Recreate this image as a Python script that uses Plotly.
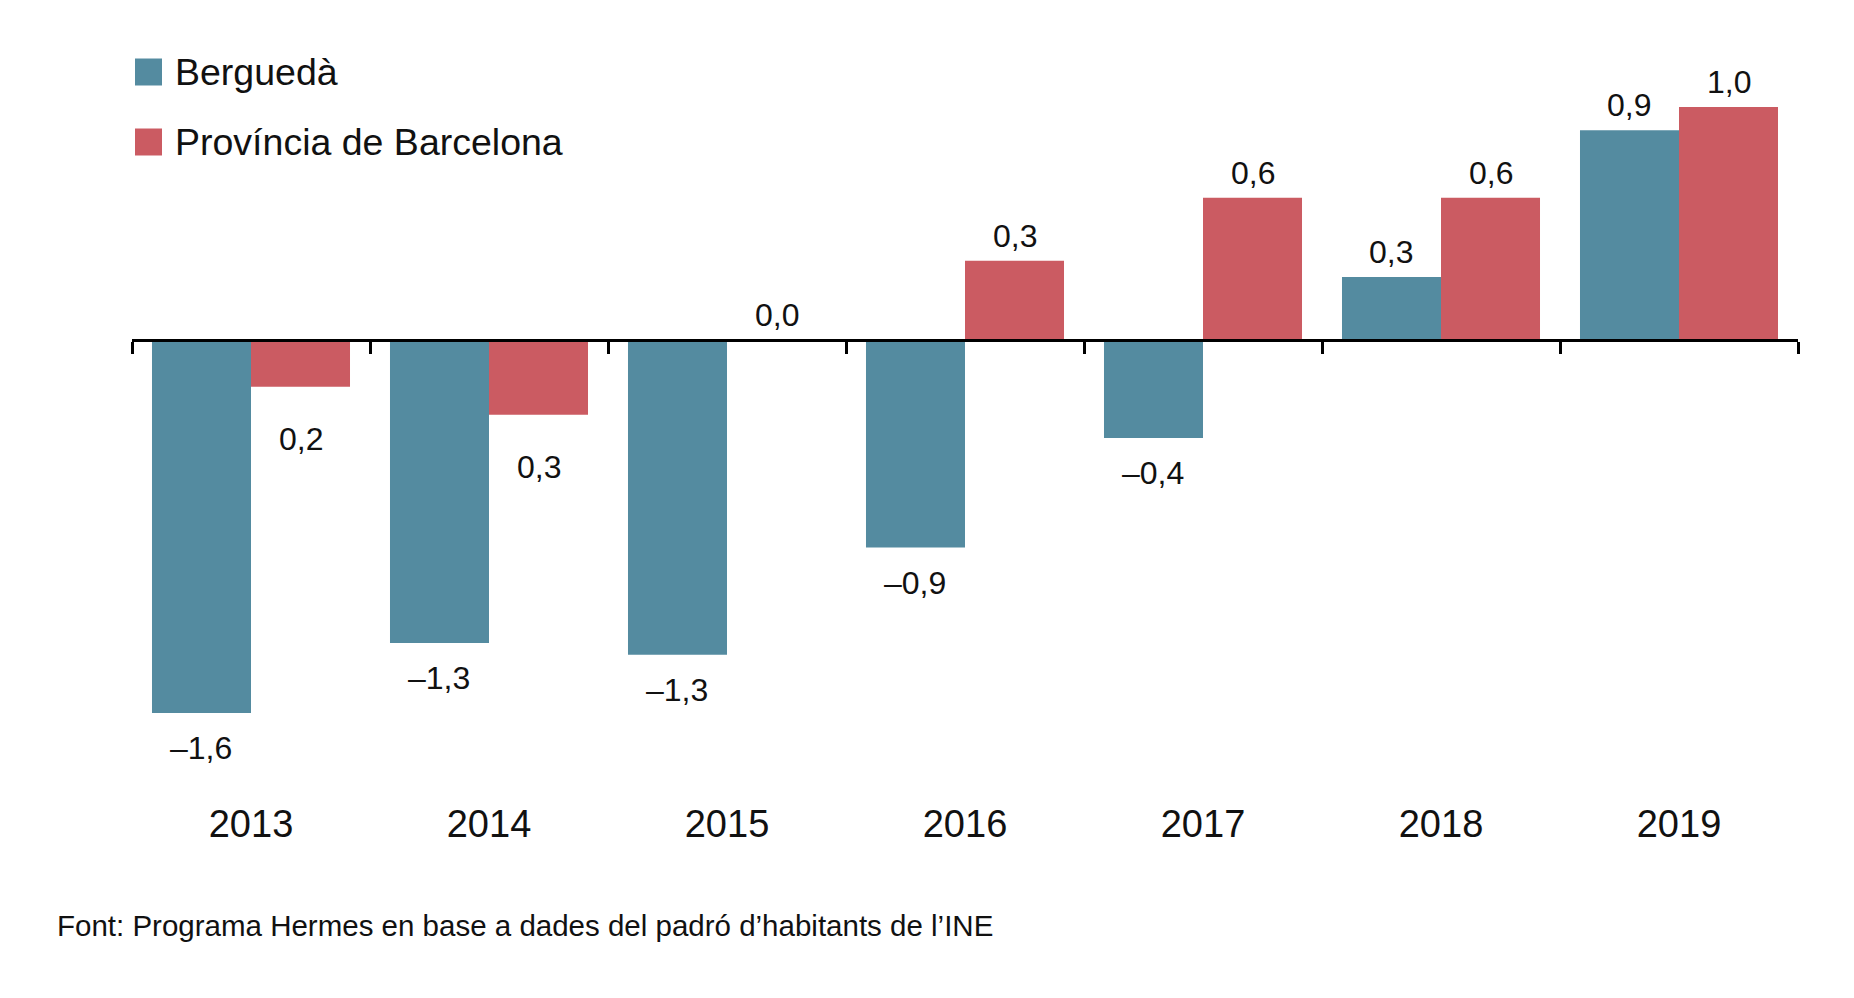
import plotly.graph_objects as go

years = ["2013", "2014", "2015", "2016", "2017", "2018", "2019"]
bergueda = [-1.60, -1.30, -1.35, -0.89, -0.42, 0.27, 0.90]
barcelona = [-0.20, -0.32, 0.00, 0.34, 0.61, 0.61, 1.00]
bergueda_labels = ["–1,6", "–1,3", "–1,3", "–0,9", "–0,4", "0,3", "0,9"]
barcelona_labels = ["0,2", "0,3", "0,0", "0,3", "0,6", "0,6", "1,0"]
names = ["Berguedà", "Província de Barcelona"]
colors = ["#548BA0", "#CB5B62"]
source = "Font: Programa Hermes en base a dades del padró d’habitants de l’INE"

# page is 1854x998, the figure sits 8px in because of the body margin
OFF = 8
W, H = 1854 - 2 * OFF, 998 - 2 * OFF
ml, mr, mt, mb = 124, 48, 29, 242
pw = W - ml - mr
ph = H - mt - mb
ymin, ymax = -1.75, 1.3
bargap = 0.168
font = "Liberation Sans, Arial, Helvetica, sans-serif"

def px_x(px):
    return (px - OFF - ml) / pw

def px_y(py):
    return (H - mb - (py - OFF)) / ph

fig = go.Figure()
for name, vals, col in zip(names, [bergueda, barcelona], colors):
    fig.add_trace(go.Bar(x=years, y=vals, name=name, marker_color=col,
                         marker_line_width=0, hoverinfo="x+y"))

# dummy trace so the second axis (zero line with ticks) gets its categories
fig.add_trace(go.Scatter(x=years, y=bergueda, xaxis="x2", mode="markers",
                         marker=dict(opacity=0), hoverinfo="skip",
                         showlegend=False))

# data labels
half = pw / len(years) * (1 - bargap) / 4
anns = []
for vals, labels, sign, negshift in [(bergueda, bergueda_labels, -1, -35),
                                     (barcelona, barcelona_labels, 1, -52)]:
    for i, (v, t) in enumerate(zip(vals, labels)):
        anns.append(dict(x=i, y=v, xref="x", yref="y", text=t,
                         showarrow=False, xshift=sign * half,
                         yshift=25 if v >= 0 else negshift,
                         yanchor="middle", xanchor="center",
                         font=dict(size=32, color="#111", family=font)))

# legend drawn by hand (plotly caps legend symbol size)
shapes = []
for i, (name, col) in enumerate(zip(names, colors)):
    cy = 72 + i * 70
    shapes.append(dict(type="rect", xref="paper", yref="paper",
                       x0=px_x(135), x1=px_x(162),
                       y0=px_y(cy + 13.5), y1=px_y(cy - 13.5),
                       fillcolor=col, line_width=0))
    anns.append(dict(x=px_x(173), y=px_y(cy), xref="paper", yref="paper",
                     text=name, showarrow=False, xanchor="left",
                     yanchor="middle",
                     font=dict(size=37.5, color="#111", family=font)))

anns.append(dict(x=px_x(55), y=px_y(925), xref="paper", yref="paper",
                 text=source, showarrow=False, xanchor="left",
                 yanchor="middle", font=dict(size=29.5, color="#111", family=font)))

fig.update_layout(
    width=W, height=H,
    margin=dict(l=ml, r=mr, t=mt, b=mb, pad=0),
    paper_bgcolor="white", plot_bgcolor="white",
    barmode="group", bargap=bargap, bargroupgap=0,
    showlegend=False,
    annotations=anns, shapes=shapes,
    font=dict(family=font, color="#111"),
    xaxis=dict(type="category", range=[-0.5, 6.5], showline=False,
               showgrid=False, ticks="", ticklabelstandoff=50,
               tickfont=dict(size=38, color="#111")),
    xaxis2=dict(type="category", range=[-0.5, 6.5], overlaying="x",
                anchor="free", position=(0 - ymin) / (ymax - ymin),
                side="bottom", showline=True, linecolor="black", linewidth=3,
                ticks="outside", tickson="boundaries", ticklen=12,
                tickwidth=2.5, tickcolor="black", showticklabels=False,
                showgrid=False),
    yaxis=dict(range=[ymin, ymax], visible=False, showgrid=False,
               zeroline=False),
)

fig.write_html("out.html")
